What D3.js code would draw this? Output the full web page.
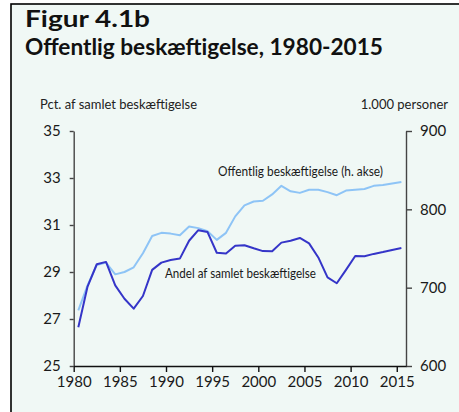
<!DOCTYPE html>
<html>
<head>
<meta charset="utf-8">
<script src="https://cdn.jsdelivr.net/npm/d3@7"></script>
<style>
  body { margin: 0; background: #fff; }
  svg { display: block; font-family: Lato, "Open Sans", sans-serif; }
</style>
</head>
<body>
<main></main>
<script>
// data
const years = d3.range(1980, 2016);
const andel = [26.65, 28.38, 29.33, 29.43, 28.43, 27.86, 27.44, 27.98, 29.09, 29.40,
               29.51, 29.57, 30.33, 30.78, 30.70, 29.82, 29.79, 30.12, 30.14, 30.01,
               29.89, 29.88, 30.25, 30.33, 30.45, 30.22, 29.62, 28.77, 28.52, 29.09,
               29.68, 29.67, 29.77, 29.85, 29.94, 30.02];
const offentlig = [671, 703, 729, 732, 717, 720, 726, 744, 766, 770,
                   769, 767, 778, 776, 772, 761, 770, 791, 805, 810,
                   811, 819, 830, 823, 821, 825, 825, 822, 818, 824,
                   825, 826, 830, 831, 833, 835];
const xTicks = [1980, 1985, 1990, 1995, 2000, 2005, 2010, 2015];
const leftTicks = [25, 27, 29, 31, 33, 35];
const rightTicks = [600, 700, 800, 900];

const size = { width: 459, height: 412 };
const plot = { left: 73.7, right: 406, top: 131, bottom: 366 };
const colors = { andel: "#3535c8", offentlig: "#8ec4f6", bg: "#f0f8f5" };

const svg = d3.select("main")
  .append("svg")
  .attr("width", size.width)
  .attr("height", size.height);

// panel with border (runs off the right/bottom edge)
svg.append("rect")
  .attr("x", 11).attr("y", 4)
  .attr("width", size.width + 20).attr("height", size.height + 20)
  .attr("fill", colors.bg)
  .attr("stroke", "#000")
  .attr("stroke-width", 1.6);

// text helper, squeezes to the width measured on the reference
const addText = (x, y, txt, fontSize, len, opts = {}) => {
  const t = svg.append("text").attr("x", x).attr("y", y)
    .attr("font-size", fontSize)
    .attr("font-weight", opts.bold ? 700 : 400)
    .attr("fill", opts.fill || "#1a1a1a")
    .attr("text-anchor", opts.anchor || "start")
    .text(txt);
  if (len) t.attr("textLength", len).attr("lengthAdjust", "spacingAndGlyphs");
  return t;
};

// titles
addText(25, 27, "Figur 4.1b", 22, 125, { bold: true, fill: "#111" });
addText(25, 55, "Offentlig beskæftigelse, 1980-2015", 22, 358, { bold: true, fill: "#111" });
addText(40, 109, "Pct. af samlet beskæftigelse", 14, 157, { fill: "#222" });
addText(448, 109, "1.000 personer", 13, null, { fill: "#222", anchor: "end" });

// scales
const xScale = d3.scaleLinear().domain([1980, 2016]).range([plot.left, plot.right]);
const yLeft = d3.scaleLinear().domain([25, 35]).range([plot.bottom, plot.top]);
const yRight = d3.scaleLinear().domain([600, 900]).range([plot.bottom, plot.top]);

// axes
const styleAxis = (g, color) => {
  g.select(".domain").attr("stroke", color).attr("stroke-width", 1.4);
  g.selectAll(".tick line").attr("stroke", color).attr("stroke-width", 1.4);
  g.selectAll(".tick text").attr("fill", "#1a1a1a").attr("font-size", 15)
   .attr("font-family", "Lato, sans-serif");
};

svg.append("g")
  .attr("transform", `translate(${plot.left},0)`)
  .call(d3.axisLeft(yLeft).tickValues(leftTicks).tickSize(4).tickSizeOuter(0).tickPadding(9))
  .call(g => styleAxis(g, "#444"));

svg.append("g")
  .attr("transform", `translate(${plot.right},0)`)
  .call(d3.axisRight(yRight).tickValues(rightTicks).tickSize(6).tickSizeOuter(0).tickPadding(8))
  .call(g => styleAxis(g, "#444"));

svg.append("g")
  .attr("transform", `translate(0,${plot.bottom})`)
  .call(d3.axisBottom(xScale).tickValues(xTicks).tickFormat(d3.format("d"))
        .tickSize(6).tickSizeOuter(0).tickPadding(4))
  .call(g => styleAxis(g, "#111"));

// lines, points placed mid-year
const lineLeft = d3.line()
  .x((d, i) => xScale(years[i] + 0.5))
  .y(d => yLeft(d));
const lineRight = d3.line()
  .x((d, i) => xScale(years[i] + 0.5))
  .y(d => yRight(d));

svg.append("path")
  .datum(offentlig)
  .attr("d", lineRight)
  .attr("fill", "none")
  .attr("stroke", colors.offentlig)
  .attr("stroke-width", 2)
  .attr("stroke-linejoin", "round");

svg.append("path")
  .datum(andel)
  .attr("d", lineLeft)
  .attr("fill", "none")
  .attr("stroke", colors.andel)
  .attr("stroke-width", 2)
  .attr("stroke-linejoin", "round");

// line labels
addText(218, 176, "Offentlig beskæftigelse (h. akse)", 12.5, 165);
addText(165, 278, "Andel af samlet beskæftigelse", 12.5, 151);
</script>
</body>
</html>
